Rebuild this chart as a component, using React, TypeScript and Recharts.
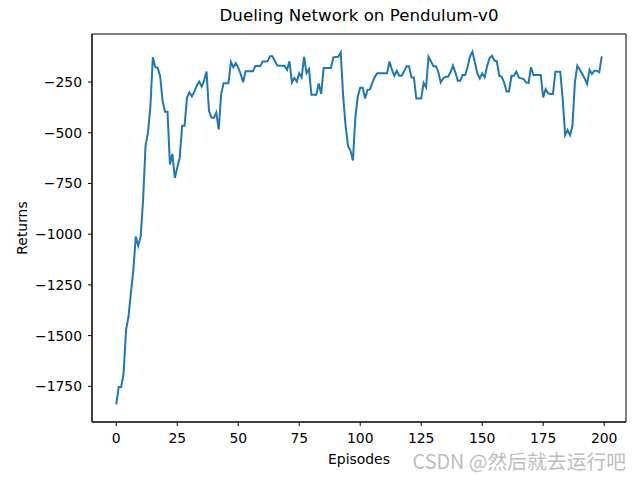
import React from 'react'
import { LineChart, Line, XAxis, YAxis, ReferenceArea } from 'recharts'

const episodes: number[] = Array.from({ length: 200 }, (_, i) => i)

const returns: number[] = [
  -1839, -1753, -1753, -1687, -1473, -1407, -1291, -1176, -1011, -1057,
  -1011, -829, -565, -499, -367, -128, -177, -180, -222, -345,
  -396, -396, -656, -604, -723, -672, -623, -466, -466, -326,
  -301, -321, -297, -268, -248, -272, -242, -198, -392, -425,
  -427, -400, -483, -309, -256, -256, -256, -151, -177, -156,
  -180, -210, -251, -197, -197, -197, -197, -171, -171, -172,
  -149, -149, -148, -123, -123, -146, -168, -169, -169, -169,
  -189, -148, -252, -230, -248, -207, -227, -126, -206, -186,
  -313, -313, -313, -257, -309, -181, -181, -181, -181, -128,
  -126, -125, -103, -318, -466, -565, -588, -637, -425, -322,
  -278, -278, -331, -288, -286, -252, -224, -207, -207, -207,
  -207, -207, -149, -189, -219, -194, -219, -219, -197, -172,
  -172, -227, -227, -331, -331, -331, -255, -276, -125, -148,
  -172, -172, -199, -252, -232, -224, -224, -202, -169, -202,
  -243, -243, -215, -215, -177, -123, -100, -153, -207, -232,
  -207, -227, -172, -133, -120, -144, -148, -219, -224, -252,
  -296, -296, -219, -219, -199, -227, -232, -235, -252, -255,
  -177, -215, -215, -215, -215, -326, -285, -305, -309, -309,
  -199, -199, -199, -334, -512, -487, -512, -466, -252, -169,
  -189, -210, -232, -260, -189, -210, -194, -194, -202, -123,
]

const xTicks = [0, 25, 50, 75, 100, 125, 150, 175, 200]
const yTicks = [-1750, -1500, -1250, -1000, -750, -500, -250]

const data = episodes.map((e, i) => ({ episode: e, value: returns[i] }))

// matplotlib-style 5% margins
const yMin = Math.min(...returns)
const yMax = Math.max(...returns)
const yPad = (yMax - yMin) * 0.05
const xPad = (episodes[episodes.length - 1] - episodes[0]) * 0.05
const xDomain = [episodes[0] - xPad, episodes[episodes.length - 1] + xPad]
const yDomain = [yMin - yPad, yMax + yPad]

const font = 'DejaVu Sans, sans-serif'
const tickStyle = { fontSize: 13.9, fill: '#000', fontFamily: font }
const fmt = (v: number) => (v < 0 ? `\u2212${Math.abs(v)}` : `${v}`)

export default function App() {
  return (
    <div style={{ position: 'absolute', left: 0, top: 0, width: 640, height: 480, background: '#fff', fontFamily: font }}>
      <div
        style={{
          position: 'absolute',
          left: 92,
          width: 534,
          top: 6,
          textAlign: 'center',
          fontSize: 16.67,
          lineHeight: '20px',
          color: '#000',
        }}
      >
        Dueling Network on Pendulum-v0
      </div>
      <LineChart width={640} height={480} data={data} margin={{ top: 34, right: 14, bottom: 16, left: 0 }}>
        <XAxis
          dataKey="episode"
          type="number"
          domain={xDomain}
          allowDataOverflow
          ticks={xTicks}
          tickFormatter={fmt}
          tick={tickStyle}
          tickSize={4}
          tickMargin={7}
          height={42}
          stroke="#000"
          label={{ value: 'Episodes', position: 'insideBottom', offset: 0, fill: '#000', fontSize: 13.9, fontFamily: font }}
        />
        <YAxis
          type="number"
          domain={yDomain}
          allowDataOverflow
          ticks={yTicks}
          tickFormatter={fmt}
          tick={tickStyle}
          tickSize={4}
          tickMargin={6}
          width={92}
          stroke="#000"
          label={{
            content: () => (
              <text
                x={22}
                y={228}
                transform="rotate(-90 22 228)"
                textAnchor="middle"
                dominantBaseline="central"
                fontSize={13.9}
                fontFamily={font}
                fill="#000"
              >
                Returns
              </text>
            ),
          }}
        />
        {/* axes frame, like matplotlib's four spines */}
        <ReferenceArea
          x1={xDomain[0]}
          x2={xDomain[1]}
          y1={yDomain[0]}
          y2={yDomain[1]}
          fill="none"
          fillOpacity={0}
          stroke="#000"
          strokeWidth={1}
          ifOverflow="visible"
        />
        <Line
          dataKey="value"
          type="linear"
          stroke="#1f77b4"
          strokeWidth={2}
          dot={false}
          isAnimationActive={false}
        />
      </LineChart>
      <div
        style={{
          position: 'absolute',
          right: 14,
          top: 446,
          fontSize: 19.8,
          fontFamily: '"Noto Sans CJK SC", sans-serif',
          color: 'rgba(185,185,185,0.95)',
          whiteSpace: 'nowrap',
        }}
      >
        CSDN @然后就去运行吧
      </div>
    </div>
  )
}
